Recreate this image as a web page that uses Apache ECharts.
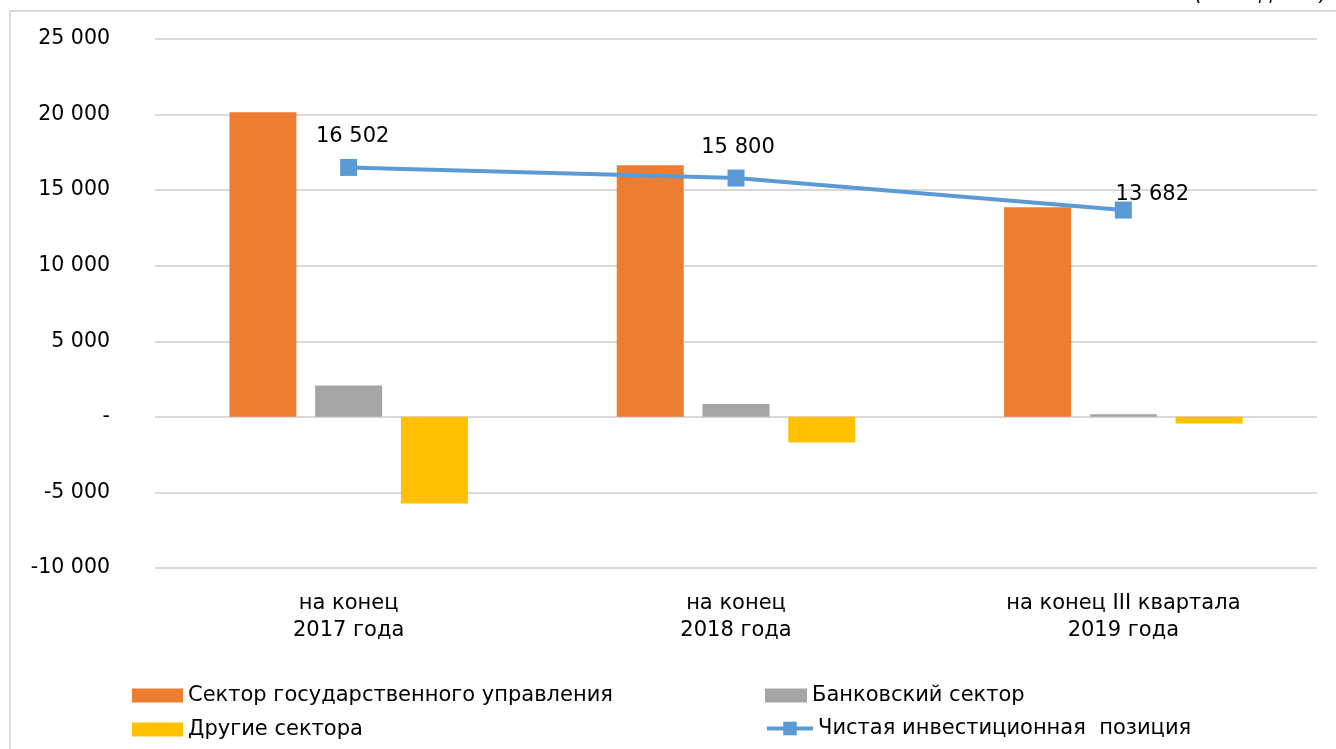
<!DOCTYPE html>
<html><head><meta charset="utf-8">
<script src="https://cdn.jsdelivr.net/npm/echarts@6/dist/echarts.min.js"></script>
<style>html,body{margin:0;padding:0;background:#fff}#c{width:1336px;height:749px}</style>
</head><body><div id="c"></div>
<script>
const categories = ['на конец\n2017 года', 'на конец\n2018 года', 'на конец III квартала\n2019 года'];
const seriesNames = ['Сектор государственного управления', 'Банковский сектор', 'Другие сектора', 'Чистая инвестиционная  позиция'];
const govSector = [20150, 16650, 13870];
const bankSector = [2080, 850, 180];
const otherSectors = [-5730, -1700, -440];
const netPosition = [16502, 15800, 13682];
const yTicks = {min: -10000, max: 25000, interval: 5000};

const labelOffsets = [[4, 0], [2, 0], [29, 15]];
const fmt = v => v === 0 ? '-' : (v < 0 ? '-' : '') + Math.abs(v).toString().replace(/\B(?=(\d{3})+(?!\d))/g, ' ');
const font = 'DejaVu Sans';
const chart = echarts.init(document.getElementById('c'));
const barCommon = {type: 'bar', barWidth: 67, barGap: '28%'};
const legendBase = {textStyle: {fontFamily: font, fontSize: 21, color: '#000'}, itemHeight: 14, itemGap: 7};
chart.setOption({
  animation: false,
  graphic: [
    {type: 'rect', shape: {x: 10, y: 11, width: 1340, height: 760}, style: {fill: 'none', stroke: '#d9d9d9', lineWidth: 2}},
    {type: 'text', right: 8, top: -16, style: {text: '(млн. долл.)', font: 'italic 21px DejaVu Sans', fill: '#000'}}
  ],
  grid: {left: 155, right: 19, top: 39, bottom: 181, containLabel: false},
  legend: [
    Object.assign({}, legendBase, {data: [{name: seriesNames[0], icon: 'rect'}], left: 127, top: 680, itemWidth: 51}),
    Object.assign({}, legendBase, {data: [{name: seriesNames[1], icon: 'rect'}], left: 760, top: 680, itemWidth: 42}),
    Object.assign({}, legendBase, {data: [{name: seriesNames[2], icon: 'rect'}], left: 127, top: 714, itemWidth: 51}),
    Object.assign({}, legendBase, {data: [seriesNames[3]], left: 760, top: 713, itemWidth: 46, itemHeight: 17, lineStyle: {width: 4}})
  ],
  xAxis: {
    type: 'category', data: categories,
    axisLine: {show: false}, axisTick: {show: false},
    axisLabel: {fontFamily: font, fontSize: 21, color: '#000', margin: 22, lineHeight: 27}
  },
  yAxis: {
    type: 'value', min: yTicks.min, max: yTicks.max, interval: yTicks.interval,
    axisLine: {show: false}, axisTick: {show: false},
    splitLine: {lineStyle: {color: '#d9d9d9', width: 2}},
    axisLabel: {fontFamily: font, fontSize: 20.5, color: '#000', margin: 45, formatter: fmt}
  },
  series: [
    Object.assign({}, barCommon, {name: seriesNames[0], data: govSector, itemStyle: {color: '#ED7D31'}}),
    Object.assign({}, barCommon, {name: seriesNames[1], data: bankSector, itemStyle: {color: '#A5A5A5'}}),
    Object.assign({}, barCommon, {name: seriesNames[2], data: otherSectors, itemStyle: {color: '#FFC000'}}),
    {
      type: 'line', name: seriesNames[3],
      data: netPosition.map((v, i) => ({value: v, label: {offset: labelOffsets[i]}})),
      symbol: 'rect', symbolSize: 17,
      lineStyle: {color: '#5B9BD5', width: 4}, itemStyle: {color: '#5B9BD5'},
      label: {show: true, position: 'top', distance: 12, fontFamily: font, fontSize: 21, color: '#000', formatter: p => fmt(p.value)},
      z: 5
    }
  ]
});
</script></body></html>
